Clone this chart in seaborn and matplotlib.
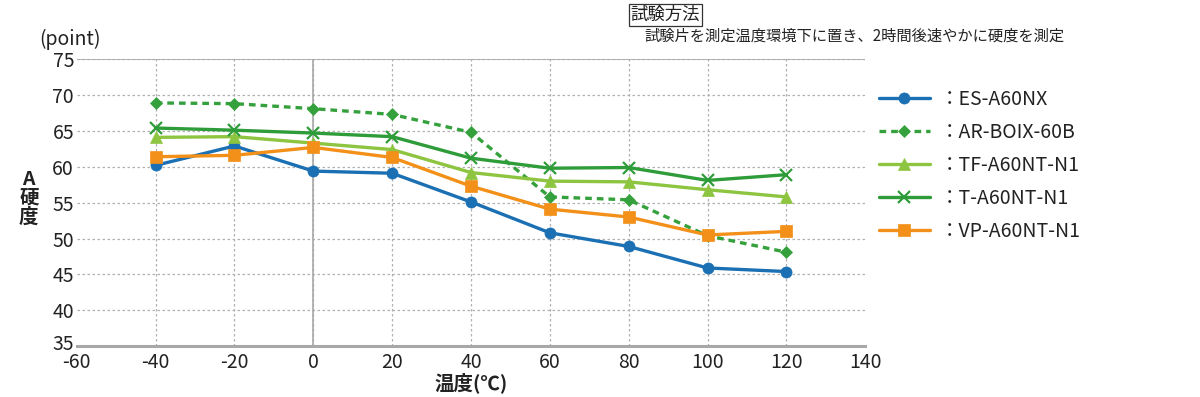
import matplotlib
matplotlib.use("Agg")
import matplotlib.pyplot as plt
import matplotlib.transforms as mtransforms
import seaborn as sns
import pandas as pd

temps = [-40, -20, 0, 20, 40, 60, 80, 100, 120]
es_a60nx = [60.2, 62.9, 59.4, 59.1, 55.1, 50.8, 48.9, 45.9, 45.4]
ar_boix_60b = [68.9, 68.8, 68.1, 67.3, 64.8, 55.8, 55.4, 50.4, 48.1]
tf_a60nt_n1 = [64.1, 64.2, 63.3, 62.4, 59.2, 58.0, 57.9, 56.8, 55.8]
t_a60nt_n1 = [65.4, 65.1, 64.7, 64.2, 61.2, 59.8, 59.9, 58.1, 58.9]
vp_a60nt_n1 = [61.4, 61.6, 62.7, 61.3, 57.3, 54.1, 53.0, 50.5, 51.0]
series_names = ["ES-A60NX", "AR-BOIX-60B", "TF-A60NT-N1", "T-A60NT-N1", "VP-A60NT-N1"]
x_ticks = [-60, -40, -20, 0, 20, 40, 60, 80, 100, 120, 140]
y_ticks = [35, 40, 45, 50, 55, 60, 65, 70, 75]

sns.set_theme(style="white")
plt.rcParams['font.family'] = ['Noto Sans CJK JP', 'DejaVu Sans']

values = [es_a60nx, ar_boix_60b, tf_a60nt_n1, t_a60nt_n1, vp_a60nt_n1]
df = pd.DataFrame([{"temp": t, "val": v, "series": n}
                   for n, vals in zip(series_names, values) for t, v in zip(temps, vals)])

styles = {
    "ES-A60NX": dict(color="#1b6fb3", marker="o", ls="-", ms=8),
    "AR-BOIX-60B": dict(color="#34a13c", marker="D", ls=(0, (2, 1.5)), ms=6),
    "TF-A60NT-N1": dict(color="#8dc540", marker="^", ls="-", ms=8),
    "T-A60NT-N1": dict(color="#2f9c3a", marker="x", ls="-", ms=9),
    "VP-A60NT-N1": dict(color="#f39019", marker="s", ls="-", ms=8),
}

fig = plt.figure(figsize=(12, 3.97), dpi=100)
ax = fig.add_axes([0.064, 0.128, 0.657, 0.723])

for n in series_names:
    s = styles[n]
    sub = df[df["series"] == n]
    sns.lineplot(data=sub, x="temp", y="val", ax=ax, color=s["color"], marker=s["marker"],
                 markersize=s["ms"], linewidth=2.4, linestyle=s["ls"],
                 markeredgecolor=s["color"], markeredgewidth=1.6 if s["marker"] == "x" else 0.5,
                 label="：" + n)

ax.set_xlim(-60, 140)
ax.set_ylim(35, 75)
ax.set_xticks(x_ticks)
ax.set_yticks(y_ticks)
ax.set_xticklabels([str(t) for t in x_ticks])
ax.set_yticklabels([str(t) for t in y_ticks])
ax.grid(True, color="#b0b0b0", linestyle=(0, (2, 2)), linewidth=0.9)
xg = ax.get_xgridlines()
xg[0].set_visible(False)
xg[-1].set_visible(False)
ax.axvline(0, color="#a8a8a8", linewidth=1.2, zorder=1)
ax.axhline(75, color="#a8a8a8", linewidth=1.2, zorder=1)
for sp in ["left", "right", "top"]:
    ax.spines[sp].set_visible(False)
ax.spines["bottom"].set_color("#a8a8a8")
ax.spines["bottom"].set_linewidth(2.2)
ax.tick_params(axis="both", length=0, labelsize=14, colors="#222222")
ax.tick_params(axis="x", pad=4)
ax.tick_params(axis="y", pad=2)
ax.set_xlabel("温度(℃)", fontsize=14, fontweight="bold", labelpad=0, color="#222222")
ax.set_ylabel("")

# nudge the lowest y tick label up slightly so it doesn't collide with "-60"
lbl35 = ax.get_yticklabels()[0]
lbl35.set_transform(lbl35.get_transform() +
                    mtransforms.ScaledTranslation(0, 4 / 100, fig.dpi_scale_trans))

fig.text(0.033, 0.90, "(point)", fontsize=14, color="#222222", va="center")
fig.text(0.024, 0.50, "A\n硬\n度", fontsize=14, fontweight="bold", color="#222222",
         ha="center", va="center", linespacing=1.0)

fig.text(0.5255, 0.962, "試験方法", fontsize=12.5, color="#222222", va="center",
         bbox=dict(boxstyle="square,pad=0.12", fc="white", ec="#333333", lw=0.9))
fig.text(0.537, 0.91, "試験片を測定温度環境下に置き、2時間後速やかに硬度を測定", fontsize=11,
         color="#222222", va="center")

handles, labels = ax.get_legend_handles_labels()
leg = ax.legend(handles, labels, loc="upper left", bbox_to_anchor=(0.718, 0.82),
                bbox_transform=fig.transFigure, frameon=False, fontsize=14,
                handlelength=2.6, labelspacing=0.62, handletextpad=0.5)
for t in leg.get_texts():
    t.set_color("#222222")

fig.savefig("out.png", dpi=100)
